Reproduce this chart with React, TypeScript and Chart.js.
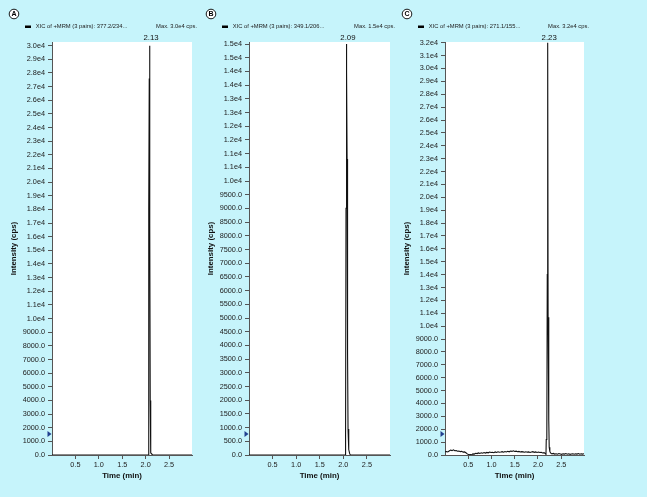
import React, { useEffect, useRef } from 'react';
import { Chart, registerables } from 'chart.js';

Chart.register(...registerables);

// ---------------- data ----------------
const timeA = [0, 2.04, 2.06, 2.0625, 2.07, 2.077, 2.084, 2.091, 2.098, 2.105, 2.112, 2.125, 2.135, 2.15, 2.99];
const intensityA = [0, 0, 0, 2000, 18000, 27600, 30000, 17000, 4000, 600, 150, 100, 50, 0, 0];

const timeB = [0, 2.04, 2.048, 2.057, 2.066, 2.072, 2.08, 2.09, 2.1, 2.115, 2.135, 2.15, 2.99];
const intensityB = [0, 0, 700, 9000, 15000, 14000, 10800, 3700, 950, 200, 50, 0, 0];

const timeC = [
  0, 0.03, 0.06, 0.09, 0.12, 0.15, 0.18, 0.21, 0.24, 0.27, 0.3, 0.33, 0.36, 0.39, 0.42, 0.45, 0.48, 0.51, 0.54, 0.57,
  0.6, 0.63, 0.66, 0.69, 0.72, 0.75, 0.78, 0.81, 0.84, 0.87, 0.9, 0.93, 0.96, 0.99, 1.02, 1.05, 1.08, 1.11, 1.14, 1.17,
  1.2, 1.23, 1.26, 1.29, 1.32, 1.35, 1.38, 1.41, 1.44, 1.47, 1.5, 1.53, 1.56, 1.59, 1.62, 1.65, 1.68, 1.71, 1.74, 1.77,
  1.8, 1.83, 1.86, 1.89, 1.92, 1.95, 1.98, 2.01, 2.04, 2.07, 2.1, 2.13, 2.16,
  2.172, 2.178, 2.19, 2.2, 2.209, 2.218, 2.232, 2.242, 2.255, 2.27,
  2.3, 2.33, 2.36, 2.39, 2.42, 2.45, 2.48, 2.51, 2.54, 2.57, 2.6, 2.63, 2.66, 2.69, 2.72, 2.75, 2.78, 2.81, 2.84, 2.87,
  2.9, 2.93, 2.96, 2.99,
];
const intensityC = [
  250, 270, 240, 310, 380, 340, 400, 330, 350, 290, 310, 260, 280, 220, 240, 170, 90, 20, 40, 10,
  90, 70, 130, 110, 160, 120, 170, 140, 190, 150, 200, 170, 230, 190, 210, 180, 240, 200, 250, 210,
  230, 260, 220, 270, 240, 290, 250, 310, 280, 330, 270, 300, 250, 280, 230, 260, 240, 210, 250, 220,
  240, 200, 230, 260, 210, 240, 200, 230, 190, 210, 160, 180, 110,
  40, 1200, 1300, 14000, 32000, 10700, 2700, 600, 280, 160,
  90, 120, 70, 100, 60, 110, 80, 50, 90, 70, 110, 60, 90, 50, 80, 100, 60, 90, 70, 110,
  60, 90, 70, 100,
];

const yTicksA = [0, 1000, 2000, 3000, 4000, 5000, 6000, 7000, 8000, 9000, 10000, 11000, 12000, 13000, 14000, 15000,
  16000, 17000, 18000, 19000, 20000, 21000, 22000, 23000, 24000, 25000, 26000, 27000, 28000, 29000, 30000];
const yTicksB = [0, 500, 1000, 1500, 2000, 2500, 3000, 3500, 4000, 4500, 5000, 5500, 6000, 6500, 7000, 7500,
  8000, 8500, 9000, 9500, 10000, 10500, 11000, 11500, 12000, 12500, 13000, 13500, 14000, 14500, 15000];
const yTicksC = [0, 1000, 2000, 3000, 4000, 5000, 6000, 7000, 8000, 9000, 10000, 11000, 12000, 13000, 14000, 15000,
  16000, 17000, 18000, 19000, 20000, 21000, 22000, 23000, 24000, 25000, 26000, 27000, 28000, 29000, 30000, 31000, 32000];
const xTickValues = [0.5, 1.0, 1.5, 2.0, 2.5];

const panelLetters = ['A', 'B', 'C'];
const legendTexts = ['XIC of +MRM (3 pairs): 377.2/234...', 'XIC of +MRM (3 pairs): 349.1/206...', 'XIC of +MRM (3 pairs): 271.1/155...'];
const maxTexts = ['Max. 3.0e4 cps.', 'Max. 1.5e4 cps.', 'Max. 3.2e4 cps.'];
const peakLabels = ['2.13', '2.09', '2.23'];
const peakTimes = [2.084, 2.066, 2.209];
const xTitle = 'Time (min)';
const yTitle = 'Intensity (cps)';

// ---------------- layout ----------------
const W = 647;
const H = 497;
const BG = '#C6F4FB';
const FONT = '"Liberation Sans", Arial, Helvetica, sans-serif';

type PanelSpec = {
  idx: number;
  times: number[];
  values: number[];
  yTicks: number[];
  yMax: number;
  left: number;
  width: number;
  plotLeft: number;
  plotRight: number;
};

const panels: PanelSpec[] = [
  { idx: 0, times: timeA, values: intensityA, yTicks: yTicksA, yMax: 30270, left: 0, width: 205, plotLeft: 52, plotRight: 192 },
  { idx: 1, times: timeB, values: intensityB, yTicks: yTicksB, yMax: 15073, left: 200, width: 210, plotLeft: 249, plotRight: 390 },
  { idx: 2, times: timeC, values: intensityC, yTicks: yTicksC, yMax: 32055, left: 398, width: 249, plotLeft: 445, plotRight: 584 },
];

const PLOT_TOP = 42;
const PLOT_BOTTOM = 455;

function fmtY(v: number): string {
  return v >= 10000 ? v.toExponential(1).replace('e+', 'e') : v.toFixed(1);
}

function Panel({ p }: { p: PanelSpec }) {
  const ref = useRef<HTMLCanvasElement>(null);
  useEffect(() => {
    const canvas = ref.current!;
    const plotL = p.plotLeft - p.left;
    const plotR = p.plotRight - p.left;
    const deco = {
      id: 'deco' + p.idx,
      beforeDraw(chart: any) {
        const { ctx, chartArea: a } = chart;
        ctx.save();
        ctx.fillStyle = '#ffffff';
        ctx.fillRect(a.left, a.top, a.right - a.left, a.bottom - a.top);
        ctx.restore();
      },
      afterDraw(chart: any) {
        const { ctx, chartArea: a } = chart;
        const xs = chart.scales.x;
        ctx.save();
        // circled letter
        const cx = plotL - 38;
        ctx.beginPath();
        ctx.arc(cx, 14, 4.8, 0, Math.PI * 2);
        ctx.fillStyle = '#ffffff';
        ctx.fill();
        ctx.lineWidth = 0.9;
        ctx.strokeStyle = '#000';
        ctx.stroke();
        ctx.fillStyle = '#000';
        ctx.font = `bold 7px ${FONT}`;
        ctx.textAlign = 'center';
        ctx.textBaseline = 'middle';
        ctx.fillText(panelLetters[p.idx], cx, 14.3);
        // legend
        ctx.fillStyle = '#000';
        ctx.fillRect(plotL - 27, 25.5, 6, 2.5);
        ctx.fillStyle = '#222';
        ctx.font = `5.8px ${FONT}`;
        ctx.textAlign = 'left';
        ctx.fillText(legendTexts[p.idx], plotL - 16.3, 26.8);
        ctx.textAlign = 'right';
        ctx.fillText(maxTexts[p.idx], plotR + 5, 26.8);
        // peak label
        ctx.font = `7.8px ${FONT}`;
        ctx.textAlign = 'center';
        ctx.fillStyle = '#111';
        ctx.fillText(peakLabels[p.idx], xs.getPixelForValue(peakTimes[p.idx]) + 1.5, 37.5);
        // axis titles
        ctx.font = `bold 7.9px ${FONT}`;
        ctx.fillStyle = '#111';
        ctx.fillText(xTitle, (a.left + a.right) / 2, 476);
        ctx.save();
        ctx.translate(plotL - 38, (a.top + a.bottom) / 2);
        ctx.rotate(-Math.PI / 2);
        ctx.fillText(yTitle, 0, 0);
        ctx.restore();
        // baseline marker
        ctx.beginPath();
        ctx.moveTo(plotL - 0.5, 434);
        ctx.lineTo(plotL - 4.5, 431);
        ctx.lineTo(plotL - 4.5, 437);
        ctx.closePath();
        ctx.fillStyle = '#22408f';
        ctx.fill();
        ctx.restore();
      },
    };
    const chart = new Chart(canvas, {
      type: 'line',
      data: {
        datasets: [
          {
            data: p.times.map((t, i) => ({ x: t, y: p.values[i] })),
            borderColor: '#111',
            borderWidth: 1.1,
            pointRadius: 0,
            tension: 0,
            fill: false,
          },
        ],
      },
      options: {
        animation: false,
        responsive: false,
        events: [],
        layout: { padding: { left: 0, top: PLOT_TOP, right: p.width - plotR, bottom: 0 } },
        plugins: { legend: { display: false }, tooltip: { enabled: false } },
        scales: {
          x: {
            type: 'linear',
            min: 0,
            max: 2.99,
            afterBuildTicks: (s: any) => {
              s.ticks = xTickValues.map((v) => ({ value: v }));
            },
            afterFit: (s: any) => {
              s.height = H - PLOT_BOTTOM;
            },
            grid: { drawOnChartArea: false, drawTicks: true, tickLength: 4, color: '#555' },
            border: { display: true, color: '#555', width: 1 },
            ticks: {
              autoSkip: false,
              maxRotation: 0,
              padding: 2,
              color: '#222',
              font: { family: FONT, size: 7.3 },
              callback: (v: any) => Number(v).toFixed(1),
            },
          },
          y: {
            type: 'linear',
            min: 0,
            max: p.yMax,
            afterBuildTicks: (s: any) => {
              s.ticks = p.yTicks.map((v) => ({ value: v }));
            },
            afterFit: (s: any) => {
              s.width = plotL;
            },
            grid: { drawOnChartArea: false, drawTicks: true, tickLength: 4, color: '#555' },
            border: { display: true, color: '#555', width: 1 },
            ticks: {
              autoSkip: false,
              padding: 3,
              color: '#222',
              font: { family: FONT, size: 7.3 },
              callback: (v: any) => fmtY(Number(v)),
            },
          },
        },
      },
      plugins: [deco],
    } as any);
    return () => chart.destroy();
  }, []);
  return (
    <canvas
      ref={ref}
      width={p.width}
      height={H}
      style={{ position: 'absolute', left: p.left, top: 0, width: p.width, height: H }}
    />
  );
}

export default function App() {
  return (
    <div style={{ position: 'absolute', left: 0, top: 0, width: W, height: H, background: BG, overflow: 'hidden' }}>
      {panels.map((p) => (
        <Panel key={p.idx} p={p} />
      ))}
    </div>
  );
}
